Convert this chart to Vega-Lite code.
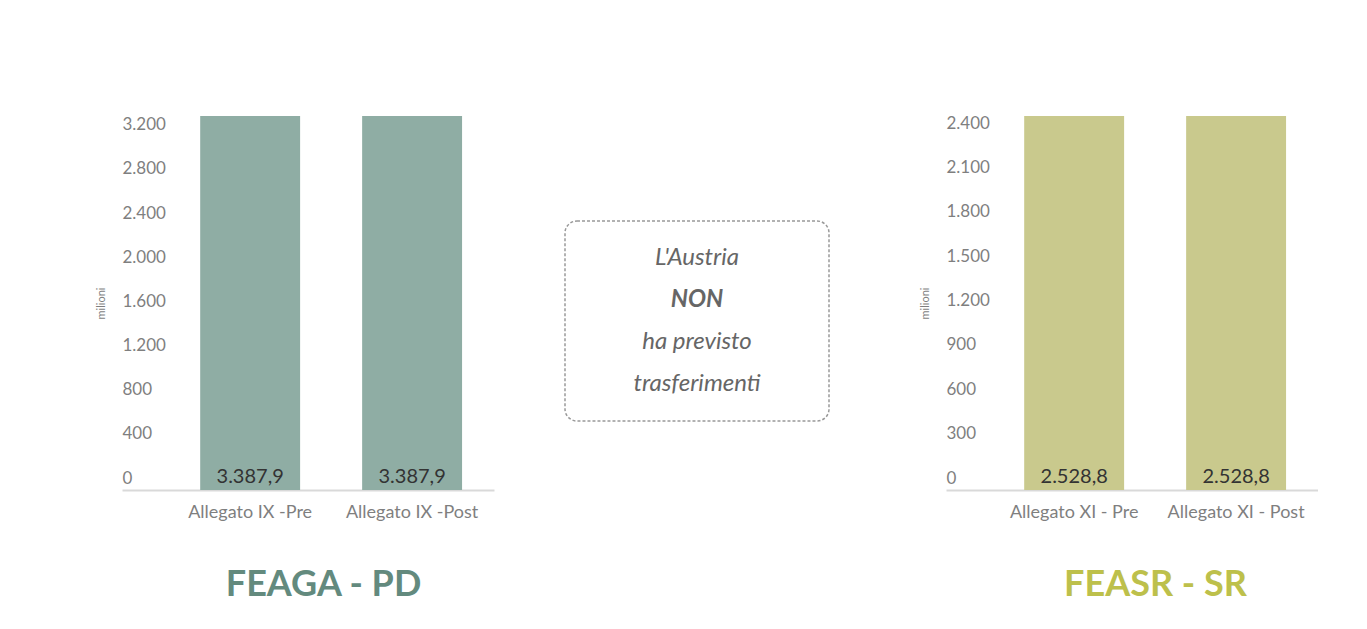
{
  "$schema": "https://vega.github.io/schema/vega-lite/v6.json",
  "background": "white",
  "padding": {"left": 95, "top": 114, "right": 0, "bottom": 0},
  "config": {
    "font": "Lato",
    "view": {"stroke": null},
    "locale": {"number": {"decimal": ",", "thousands": ".", "grouping": [3], "currency": ["€", ""]}}
  },
  "datasets": {
    "feaga": [
      {"allegato": "Allegato IX -Pre", "valore": 3387.9},
      {"allegato": "Allegato IX -Post", "valore": 3387.9}
    ],
    "feasr": [
      {"allegato": "Allegato XI - Pre", "valore": 2528.8},
      {"allegato": "Allegato XI - Post", "valore": 2528.8}
    ],
    "nota": [
      {"riga": 1, "testo": "L'Austria"},
      {"riga": 2, "testo": "NON"},
      {"riga": 3, "testo": "ha previsto"},
      {"riga": 4, "testo": "trasferimenti"}
    ],
    "vuoto": []
  },
  "spacing": 70,
  "hconcat": [
    {
      "width": 372,
      "height": 374,
      "data": {"name": "feaga"},
      "encoding": {
        "x": {
          "field": "allegato", "type": "nominal", "sort": null,
          "scale": {"paddingInner": 0.383, "paddingOuter": 0.34, "align": 0.71},
          "axis": {
            "title": "FEAGA - PD", "labelAngle": 0, "labelFontSize": 18, "labelColor": "#7f7f7f",
            "labelPadding": 13, "ticks": false, "domainColor": "#d9d9d9", "domainWidth": 2,
            "titleFontSize": 36, "titleFontWeight": "bold", "titleColor": "#638a7e",
            "titleX": 201, "titleY": 94, "titleBaseline": "middle", "titleAlign": "center"
          }
        },
        "y": {
          "field": "valore", "type": "quantitative",
          "scale": {"domain": [0, 3387.9], "nice": false},
          "axis": {
            "title": "milioni", "values": [0, 400, 800, 1200, 1600, 2000, 2400, 2800, 3200],
            "format": ",.0f", "grid": false, "domain": false, "ticks": false,
            "labelAlign": "left", "labelPadding": 0, "labelOffset": -12, "labelFontSize": 17,
            "labelColor": "#7f7f7f", "titleFontSize": 11, "titleFontWeight": "normal",
            "titleColor": "#7f7f7f", "titlePadding": 16
          }
        }
      },
      "layer": [
        {"mark": {"type": "bar", "color": "#8fada4"}},
        {
          "mark": {"type": "text", "dy": -13, "fontSize": 20, "color": "#333333"},
          "encoding": {"y": {"datum": 0}, "text": {"field": "valore", "type": "quantitative", "format": ",.1f"}}
        }
      ]
    },
    {
      "spacing": 89,
      "hconcat": [
        {
          "spacing": 0,
          "vconcat": [
            {"width": 264, "height": 104, "data": {"name": "vuoto"}, "mark": "point"},
            {
              "width": 264,
              "height": 200,
              "view": {"stroke": "#999999", "strokeWidth": 1.5, "strokeDash": [3, 2], "cornerRadius": 12},
              "data": {"name": "nota"},
              "encoding": {
                "y": {"field": "riga", "type": "ordinal", "axis": null, "scale": {"padding": 0.88}},
                "text": {"field": "testo"}
              },
              "layer": [
                {
                  "transform": [{"filter": "datum.testo !== 'NON'"}],
                  "mark": {"type": "text", "fontSize": 24, "fontStyle": "italic", "color": "#666666"}
                },
                {
                  "transform": [{"filter": "datum.testo === 'NON'"}],
                  "mark": {"type": "text", "fontSize": 24, "fontStyle": "italic", "fontWeight": "bold", "color": "#666666"}
                }
              ]
            }
          ]
        },
        {
          "width": 372,
          "height": 374,
          "data": {"name": "feasr"},
          "encoding": {
            "x": {
              "field": "allegato", "type": "nominal", "sort": null,
              "scale": {"paddingInner": 0.383, "paddingOuter": 0.34, "align": 0.71},
              "axis": {
                "title": "FEASR - SR", "labelAngle": 0, "labelFontSize": 18, "labelColor": "#7f7f7f",
                "labelPadding": 13, "ticks": false, "domainColor": "#d9d9d9", "domainWidth": 2,
                "titleFontSize": 36, "titleFontWeight": "bold", "titleColor": "#bdc04b",
                "titleX": 209, "titleY": 94, "titleBaseline": "middle", "titleAlign": "center"
              }
            },
            "y": {
              "field": "valore", "type": "quantitative",
              "scale": {"domain": [0, 2528.8], "nice": false},
              "axis": {
                "title": "milioni", "values": [0, 300, 600, 900, 1200, 1500, 1800, 2100, 2400],
                "format": ",.0f", "grid": false, "domain": false, "ticks": false,
                "labelAlign": "left", "labelPadding": 0, "labelOffset": -12, "labelFontSize": 17,
                "labelColor": "#7f7f7f", "titleFontSize": 11, "titleFontWeight": "normal",
                "titleColor": "#7f7f7f", "titlePadding": 16
              }
            }
          },
          "layer": [
            {"mark": {"type": "bar", "color": "#c9c98d"}},
            {
              "mark": {"type": "text", "dy": -13, "fontSize": 20, "color": "#333333"},
              "encoding": {"y": {"datum": 0}, "text": {"field": "valore", "type": "quantitative", "format": ",.1f"}}
            }
          ]
        }
      ]
    }
  ]
}
